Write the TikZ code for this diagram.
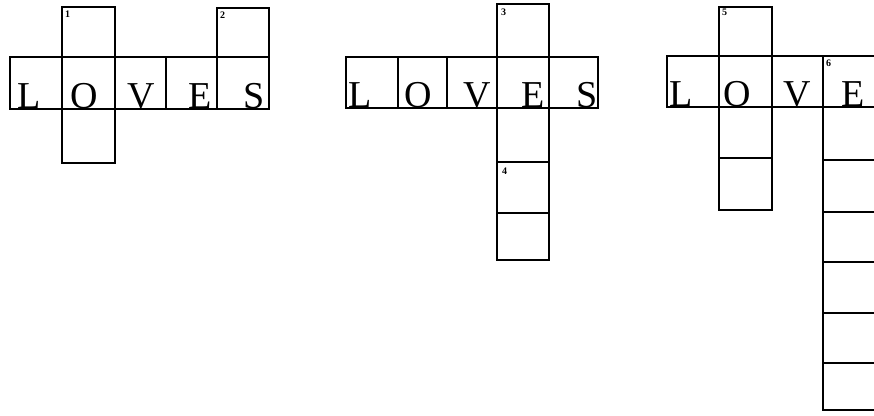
\documentclass[tikz,border=0pt]{standalone}
\usepackage{fontspec}
\setmainfont{Liberation Serif}
\begin{document}
\begin{tikzpicture}[x=1pt, y=-1pt,
		cell/.style={draw=black, line width=1.6pt},
		letter/.style={anchor=base, inner sep=0pt, font=\fontsize{38}{40}\selectfont},
		clue/.style={anchor=north west, inner sep=0pt, font=\fontsize{10}{10}\selectfont\bfseries}
	]
		\useasboundingbox (0,0) rectangle (874,415);
		% first grid
		\foreach \a/\b in {10/62,62/115,115/166,166/217,217/269}
			\draw[cell] (\a,57) rectangle (\b,109);
		\draw[cell] (62,7) rectangle (115,57);
		\draw[cell] (217,8) rectangle (269,57);
		\draw[cell] (62,109) rectangle (115,163);
		\foreach \c/\x/\n in {L/29/la,O/84/oa,V/141/va,E/200/ea,S/254/sa}
			\node[letter] (\n) at (\x,108) {\c};
		\node[clue] (na) at (65,11) {1};
		\node[clue] (nb) at (220,12) {2};
		% second grid
		\foreach \a/\b in {346/398,398/447,447/497,497/549,549/598}
			\draw[cell] (\a,57) rectangle (\b,108);
		\foreach \a/\b in {4/57,108/162,162/213,213/260}
			\draw[cell] (497,\a) rectangle (549,\b);
		\foreach \c/\x/\n in {L/360/lb,O/418/ob,V/477/vb,E/533/eb,S/587/sb}
			\node[letter] (\n) at (\x,107) {\c};
		\node[clue] (nc) at (501,9) {3};
		\node[clue] (nd) at (502,168) {4};
		% third grid
		\foreach \a/\b in {667/719,719/772,772/823,823/876}
			\draw[cell] (\a,56) rectangle (\b,107);
		\foreach \a/\b in {7/56,107/158,158/210}
			\draw[cell] (719,\a) rectangle (772,\b);
		\foreach \a/\b in {107/160,160/212,212/262,262/313,313/363,363/410}
			\draw[cell] (823,\a) rectangle (876,\b);
		\foreach \c/\x/\n in {L/681/lc,O/737/oc,V/797/vc,E/853/ec}
			\node[letter] (\n) at (\x,106) {\c};
		\node[clue] (ne) at (722,9) {5};
		\node[clue] (nf) at (826,60) {6};
	\end{tikzpicture}
\end{document}
